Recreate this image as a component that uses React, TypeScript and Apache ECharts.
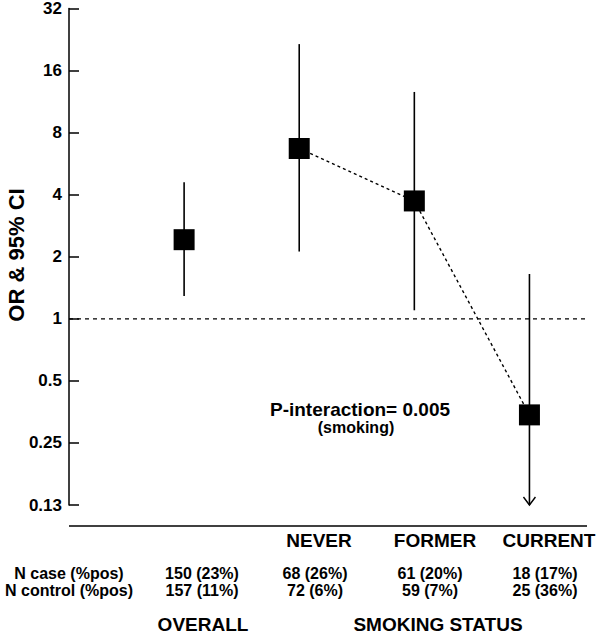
import React, { useEffect, useRef } from "react";
import * as echarts from "echarts";

// ---- data ----
const categories = ["OVERALL", "NEVER", "FORMER", "CURRENT"];
const orValues = [2.42, 6.7, 3.73, 0.342];
const ciLower = [1.29, 2.12, 1.1, 0.125];
const ciUpper = [4.6, 21.5, 12.6, 1.65];
const lowerArrow = [false, false, false, true];
const trendCategories = ["NEVER", "FORMER", "CURRENT"];
const yTickLabels = ["0.13", "0.25", "0.5", "1", "2", "4", "8", "16", "32"];
const referenceValue = 1;
const rowLabels = ["N case (%pos)", "N control (%pos)"];
const caseRow = ["150 (23%)", "68 (26%)", "61 (20%)", "18 (17%)"];
const controlRow = ["157 (11%)", "72 (6%)", "59 (7%)", "25 (36%)"];
const groupHeaders = ["NEVER", "FORMER", "CURRENT"];
const groupFooters = ["OVERALL", "SMOKING STATUS"];
const yAxisTitle = "OR & 95% CI";
const interactionText = "P-interaction= 0.005";
const interactionSub = "(smoking)";

const FONT = '"Liberation Sans", Arial, Helvetica, sans-serif';

export default function App() {
  const ref = useRef<HTMLDivElement>(null);

  useEffect(() => {
    if (!ref.current) return;
    const chart = echarts.init(ref.current, null, { renderer: "svg" });

    const xOf = (c: string) => categories.indexOf(c) + 1;

    const txt = (
      text: string,
      x: number,
      y: number,
      size: number,
      align: string = "center"
    ) => ({
      type: "text",
      x,
      y,
      style: {
        text,
        fill: "#000",
        font: `bold ${size}px ${FONT}`,
        align,
        verticalAlign: "middle",
      },
    });

    const colX = [202, 315, 430, 545];
    const headerX = [319, 435, 549];
    const footerX = [203, 438];

    const graphics: any[] = [
      {
        type: "line",
        shape: { x1: 69, y1: 526, x2: 587, y2: 526 },
        style: { stroke: "#000", lineWidth: 1.5 },
      },
      {
        type: "text",
        x: 16,
        y: 255,
        rotation: Math.PI / 2,
        style: {
          text: yAxisTitle,
          fill: "#000",
          font: `bold 22px ${FONT}`,
          align: "center",
          verticalAlign: "middle",
        },
      },
      txt(interactionText, 360, 409, 19),
      txt(interactionSub, 356, 427, 16),
      txt(rowLabels[0], 69, 573, 16),
      txt(rowLabels[1], 69, 590, 16),
    ];
    caseRow.forEach((t, i) => graphics.push(txt(t, colX[i], 573, 16)));
    controlRow.forEach((t, i) => graphics.push(txt(t, colX[i], 590, 16)));
    groupHeaders.forEach((t, i) => graphics.push(txt(t, headerX[i], 540, 19)));
    groupFooters.forEach((t, i) => graphics.push(txt(t, footerX[i], 624, 19)));

    chart.setOption({
      animation: false,
      grid: { left: 69, right: 13, top: 5, bottom: 130, containLabel: false },
      xAxis: {
        type: "value",
        min: 0,
        max: 4.5,
        show: false,
      },
      yAxis: {
        type: "log",
        logBase: 2,
        min: 0.125,
        max: 32,
        splitNumber: 8,
        axisLine: { show: true, lineStyle: { color: "#000", width: 1.5 } },
        axisTick: {
          show: true,
          inside: true,
          length: 10,
          lineStyle: { color: "#000", width: 1.5 },
        },
        axisLabel: {
          margin: 7,
          color: "#000",
          fontFamily: FONT,
          fontWeight: "bold",
          fontSize: 17,
          formatter: (v: number) => {
            const idx = Math.round(Math.log2(v)) + 3;
            return yTickLabels[idx] ?? "";
          },
        },
        splitLine: { show: false },
      },
      series: [
        {
          type: "line",
          data: [
            [0, referenceValue],
            [4.5, referenceValue],
          ],
          symbol: "none",
          lineStyle: { color: "#000", width: 1.2, type: [4, 4] },
          silent: true,
          z: 1,
        },
        {
          type: "custom",
          data: categories.map((c, i) => [
            i + 1,
            ciLower[i],
            ciUpper[i],
            lowerArrow[i] ? 1 : 0,
          ]),
          encode: { x: 0, y: [1, 2] },
          renderItem: (params: any, api: any) => {
            const x = api.value(0);
            const lo = api.coord([x, api.value(1)]);
            const hi = api.coord([x, api.value(2)]);
            const children: any[] = [
              {
                type: "line",
                shape: { x1: lo[0], y1: lo[1], x2: hi[0], y2: hi[1] },
                style: { stroke: "#000", lineWidth: 1.6 },
              },
            ];
            if (api.value(3) === 1) {
              children.push({
                type: "polyline",
                shape: {
                  points: [
                    [lo[0] - 6, lo[1] - 8],
                    [lo[0], lo[1]],
                    [lo[0] + 6, lo[1] - 8],
                  ],
                },
                style: { stroke: "#000", lineWidth: 1.4, fill: "none" },
              });
            }
            return { type: "group", children };
          },
          z: 2,
        },
        {
          type: "line",
          data: trendCategories.map((c) => [xOf(c), orValues[xOf(c) - 1]]),
          symbol: "none",
          lineStyle: { color: "#000", width: 1.4, type: [3, 3] },
          z: 3,
        },
        {
          type: "scatter",
          data: categories.map((c, i) => [i + 1, orValues[i]]),
          symbol: "rect",
          symbolSize: 21,
          itemStyle: { color: "#000", opacity: 1 },
          z: 4,
        },
      ],
      graphic: graphics,
    });

    return () => chart.dispose();
  }, []);

  return (
    <div
      ref={ref}
      style={{ position: "absolute", left: 0, top: 0, width: 600, height: 635 }}
    />
  );
}
